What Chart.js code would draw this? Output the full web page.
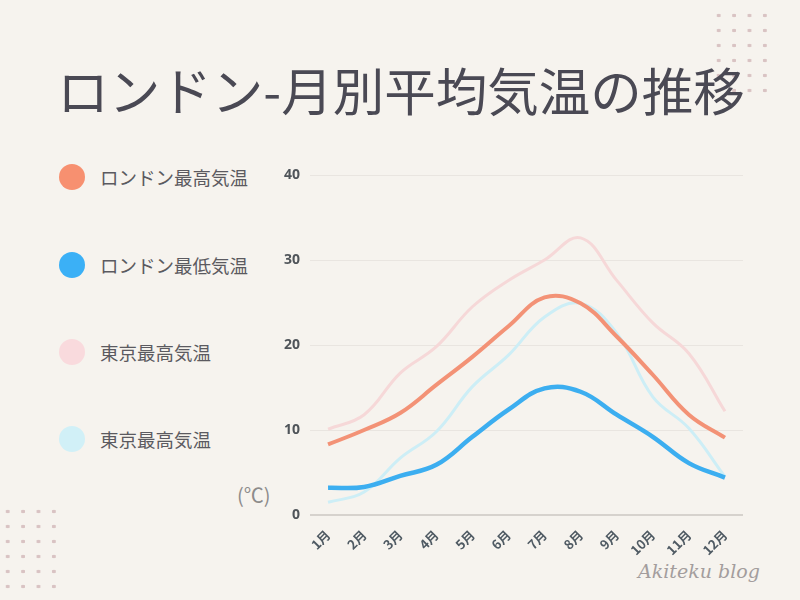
<!DOCTYPE html>
<html lang="ja">
<head>
<meta charset="utf-8">
<script src="https://cdn.jsdelivr.net/npm/chart.js@4/dist/chart.umd.min.js"></script>
<style>
  html, body { margin: 0; padding: 0; }
  body { width: 800px; height: 600px; background: #f6f3ee; position: relative; overflow: hidden;
         font-family: "Noto Sans CJK JP", "Noto Sans", sans-serif; }
  #title { position: absolute; left: 0; top: 56px; width: 802px; text-align: center;
           font-size: 51.5px; line-height: 66px; color: #4a4954; white-space: nowrap; }
  .dots { position: absolute; width: 62px; height: 90px;
          background-image: radial-gradient(circle, #d9c3c3 1.7px, transparent 2.1px);
          background-size: 15.4px 15px; }
  #legend { position: absolute; left: 59px; top: 164px; }
  .item { position: absolute; left: 0; height: 26px; display: flex; align-items: center; white-space: nowrap; }
  .item span.dot { width: 26px; height: 26px; border-radius: 50%; display: inline-block; }
  .item span.lbl { margin-left: 15px; font-size: 18.5px; color: #5b5a60; }
  #unit { position: absolute; left: 237px; top: 480px; font-size: 20px; color: #8d8b8b; }
  #mark { position: absolute; left: 638px; top: 560px; font-family: "DejaVu Serif", serif;
          font-style: italic; font-size: 19px; color: #a39d9d; }
  canvas { position: absolute; left: 0; top: 0; }
</style>
</head>
<body>
<div class="dots" style="left:711px; top:8px;"></div>
<div class="dots" style="left:0px; top:504px;"></div>
<div id="title">ロンドン-月別平均気温の推移</div>
<div id="legend"></div>
<div id="unit">(℃)</div>
<div id="mark">Akiteku blog</div>
<canvas id="chart" width="800" height="600"></canvas>
<script>
const months = ["1月", "2月", "3月", "4月", "5月", "6月", "7月", "8月", "9月", "10月", "11月", "12月"];
const seriesNames = ["ロンドン最高気温", "ロンドン最低気温", "東京最高気温", "東京最高気温"];
const londonHigh = [8.3, 10.0, 12.0, 15.3, 18.6, 22.2, 25.6, 24.9, 21.0, 16.5, 11.8, 9.1];
const londonLow = [3.2, 3.3, 4.6, 5.9, 9.2, 12.4, 14.9, 14.5, 11.8, 9.2, 6.1, 4.4];
const tokyoHigh = [10.1, 11.8, 16.7, 19.8, 24.5, 27.6, 30.0, 32.6, 27.6, 22.6, 19.0, 12.2];
const tokyoLow = [1.5, 2.7, 6.7, 9.8, 15.1, 18.8, 23.3, 24.9, 21.4, 13.9, 10.2, 4.5];
const yTicks = [0, 10, 20, 30, 40];

const lineColors = ["#f39276", "#3caef0", "#f6d8d8", "#cdeef6"];
const dotColors = ["#f79070", "#3bb0f6", "#f9dadd", "#d1f0f7"];
const widths = [4, 4.5, 3, 3];

// 凡例（HTML）
const legend = document.getElementById("legend");
const rowTops = [0, 88, 175, 262];
seriesNames.forEach((name, i) => {
  const div = document.createElement("div");
  div.className = "item";
  div.style.top = rowTops[i] + "px";
  div.innerHTML = '<span class="dot" style="background:' + dotColors[i] + '"></span><span class="lbl">' + name + '</span>';
  legend.appendChild(div);
});

const values = [londonHigh, londonLow, tokyoHigh, tokyoLow];

new Chart(document.getElementById("chart").getContext("2d"), {
  type: "line",
  data: {
    labels: months,
    datasets: values.map((d, i) => ({
      label: seriesNames[i],
      data: d,
      borderColor: lineColors[i],
      borderWidth: widths[i],
      pointRadius: 0,
      tension: 0.4,
      fill: false
    }))
  },
  options: {
    responsive: false,
    animation: false,
    layout: { padding: { left: 280, top: 175, right: 57, bottom: 0 } },
    plugins: { legend: { display: false }, tooltip: { enabled: false } },
    scales: {
      x: {
        offset: true,
        grid: { display: false },
        border: { display: false },
        ticks: {
          autoSkip: false,
          minRotation: 45,
          maxRotation: 45,
          padding: 4,
          color: "#4f5a63",
          font: { family: "'Noto Sans CJK JP', sans-serif", size: 13, weight: "bold" }
        },
        afterFit: (s) => { s.height = 85; }
      },
      y: {
        min: yTicks[0],
        max: yTicks[yTicks.length - 1],
        afterBuildTicks: (s) => { s.ticks = yTicks.map(v => ({ value: v })); },
        grid: {
          color: (c) => c.tick && c.tick.value === 0 ? "#d6d2cd" : "#e9e5e0",
          lineWidth: (c) => c.tick && c.tick.value === 0 ? 2 : 1,
          drawTicks: false
        },
        border: { display: false },
        ticks: {
          padding: 10,
          color: "#4f5459",
          font: { family: "'Noto Sans', sans-serif", size: 14, weight: "bold" }
        },
        afterFit: (s) => { s.width = 30; }
      }
    }
  }
});
</script>
</body>
</html>
